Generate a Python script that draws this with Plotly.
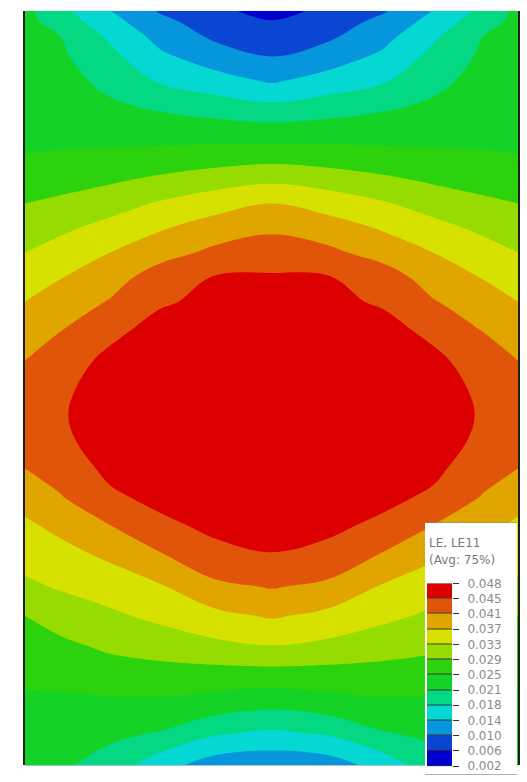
import plotly.graph_objects as go

# ---------------- data ----------------
# node positions across the width (x) and down the height (y, from the top)
X_POS = [0, 35, 85, 135, 190, 247, 303, 358, 408, 458, 493]
Y_POS = [0, 11, 26, 46, 71, 96, 121, 146, 171, 196, 221, 246, 271, 296, 326,
         356, 386, 411, 436, 466, 496, 526, 556, 586, 616, 646, 676, 706, 736, 768]

# LE11 strain (rows top -> bottom)
LE11 = [
    [0.02213, 0.01848, 0.01358, 0.00928, 0.00660, 0.00468, 0.00660, 0.00928, 0.01358, 0.01848, 0.02213],
    [0.02224, 0.01963, 0.01484, 0.01074, 0.00764, 0.00603, 0.00764, 0.01074, 0.01484, 0.01963, 0.02224],
    [0.02232, 0.02117, 0.01672, 0.01224, 0.00902, 0.00752, 0.00902, 0.01224, 0.01672, 0.02117, 0.02232],
    [0.02251, 0.02182, 0.01833, 0.01423, 0.01143, 0.00948, 0.01143, 0.01423, 0.01833, 0.02182, 0.02251],
    [0.02289, 0.02262, 0.02002, 0.01691, 0.01503, 0.01304, 0.01503, 0.01691, 0.02002, 0.02262, 0.02289],
    [0.02366, 0.02343, 0.02174, 0.02044, 0.01906, 0.01791, 0.01906, 0.02044, 0.02174, 0.02343, 0.02366],
    [0.02435, 0.02423, 0.02354, 0.02320, 0.02289, 0.02251, 0.02289, 0.02320, 0.02354, 0.02423, 0.02435],
    [0.02500, 0.02519, 0.02554, 0.02596, 0.02649, 0.02692, 0.02649, 0.02596, 0.02554, 0.02519, 0.02500],
    [0.02692, 0.02730, 0.02818, 0.02941, 0.03075, 0.03171, 0.03075, 0.02941, 0.02818, 0.02730, 0.02692],
    [0.02883, 0.02960, 0.03109, 0.03305, 0.03489, 0.03650, 0.03489, 0.03305, 0.03109, 0.02960, 0.02883],
    [0.03075, 0.03190, 0.03389, 0.03612, 0.03830, 0.03968, 0.03830, 0.03612, 0.03389, 0.03190, 0.03075],
    [0.03267, 0.03420, 0.03650, 0.03880, 0.04118, 0.04225, 0.04118, 0.03880, 0.03650, 0.03420, 0.03267],
    [0.03458, 0.03631, 0.03857, 0.04225, 0.04436, 0.04455, 0.04436, 0.04225, 0.03857, 0.03631, 0.03458],
    [0.03650, 0.03811, 0.04060, 0.04378, 0.04493, 0.04532, 0.04493, 0.04378, 0.04060, 0.03811, 0.03650],
    [0.03842, 0.04026, 0.04340, 0.04532, 0.04589, 0.04608, 0.04589, 0.04532, 0.04340, 0.04026, 0.03842],
    [0.04033, 0.04263, 0.04493, 0.04628, 0.04666, 0.04685, 0.04666, 0.04628, 0.04493, 0.04263, 0.04033],
    [0.04168, 0.04359, 0.04551, 0.04685, 0.04723, 0.04743, 0.04723, 0.04685, 0.04551, 0.04359, 0.04168],
    [0.04225, 0.04386, 0.04570, 0.04704, 0.04754, 0.04762, 0.04754, 0.04704, 0.04570, 0.04386, 0.04225],
    [0.04168, 0.04359, 0.04551, 0.04685, 0.04723, 0.04743, 0.04723, 0.04685, 0.04551, 0.04359, 0.04168],
    [0.04033, 0.04225, 0.04493, 0.04608, 0.04647, 0.04685, 0.04647, 0.04608, 0.04493, 0.04225, 0.04033],
    [0.03784, 0.03995, 0.04359, 0.04493, 0.04551, 0.04608, 0.04551, 0.04493, 0.04359, 0.03995, 0.03784],
    [0.03573, 0.03727, 0.04003, 0.04340, 0.04474, 0.04513, 0.04474, 0.04340, 0.04003, 0.03727, 0.03573],
    [0.03401, 0.03516, 0.03700, 0.03972, 0.04321, 0.04398, 0.04321, 0.03972, 0.03700, 0.03516, 0.03401],
    [0.03190, 0.03305, 0.03443, 0.03615, 0.03941, 0.04064, 0.03941, 0.03615, 0.03443, 0.03305, 0.03190],
    [0.02883, 0.03048, 0.03198, 0.03355, 0.03554, 0.03688, 0.03554, 0.03355, 0.03198, 0.03048, 0.02883],
    [0.02692, 0.02803, 0.02960, 0.03052, 0.03178, 0.03267, 0.03178, 0.03052, 0.02960, 0.02803, 0.02692],
    [0.02557, 0.02596, 0.02692, 0.02734, 0.02730, 0.02730, 0.02730, 0.02734, 0.02692, 0.02596, 0.02557],
    [0.02442, 0.02431, 0.02423, 0.02416, 0.02328, 0.02224, 0.02328, 0.02416, 0.02423, 0.02431, 0.02442],
    [0.02347, 0.02297, 0.02193, 0.02086, 0.01772, 0.01657, 0.01772, 0.02086, 0.02193, 0.02297, 0.02347],
    [0.02270, 0.02174, 0.01963, 0.01503, 0.01158, 0.01082, 0.01158, 0.01503, 0.01963, 0.02174, 0.02270],
]

# legend (bottom -> top)
LEVEL_LABELS = ["0.002", "0.006", "0.010", "0.014", "0.018", "0.021", "0.025",
                "0.029", "0.033", "0.037", "0.041", "0.045", "0.048"]
BAND_COLORS = ["#0000CD", "#0A46D2", "#0596DC", "#05D7D2", "#05D882", "#14D226",
               "#2CD20C", "#96DC00", "#D7E100", "#E1A500", "#E1550A", "#DC0000"]
LEGEND_TITLE = ["LE, LE11", "(Avg: 75%)"]

V_MIN, V_MAX = 0.002, 0.048

# ---------------- figure ----------------
n = len(BAND_COLORS)
step = (V_MAX - V_MIN) / n
cscale = []
for j, c in enumerate(BAND_COLORS):
    lo = max(0.0, (j - 0.5) / (n - 1))
    hi = min(1.0, (j + 0.5) / (n - 1))
    cscale.append([lo, c])
    cscale.append([hi, c])

W, H = 527, 782
fig = go.Figure()

fig.add_trace(go.Contour(
    x=X_POS, y=Y_POS, z=LE11,
    colorscale=cscale,
    contours=dict(start=V_MIN + step, end=V_MAX - step + step / 100, size=step,
                  coloring="fill", showlines=False),
    line=dict(width=0, smoothing=1.1),
    showscale=False, hoverinfo="skip",
    xaxis="x", yaxis="y",
))

# white legend box
fig.add_trace(go.Heatmap(
    z=[[0]], x=[0], y=[0],
    colorscale=[[0, "white"], [1, "white"]], showscale=False, hoverinfo="skip",
    xaxis="x2", yaxis="y2",
))

# legend swatches
fig.add_trace(go.Heatmap(
    z=[[j] for j in range(n)], x=[0], y=list(range(n)),
    colorscale=cscale, zmin=0, zmax=n - 1, showscale=False, hoverinfo="skip",
    ygap=1,
    xaxis="x3", yaxis="y3",
))

def px_x(a, b):
    return [a / W, b / W]

def px_y(top, bottom):
    return [1 - bottom / H, 1 - top / H]

fig.update_layout(
    width=W, height=H, autosize=False,
    margin=dict(l=0, r=0, t=0, b=0, pad=0),
    paper_bgcolor="white", plot_bgcolor="#3a3a3a",
    showlegend=False,
    xaxis=dict(domain=px_x(25, 518), range=[X_POS[0], X_POS[-1]],
               showgrid=False, zeroline=False, showticklabels=False, showline=False),
    yaxis=dict(domain=px_y(4, 772), range=[Y_POS[-1], Y_POS[0]],
               showgrid=False, zeroline=False, showticklabels=False,
               showline=True, mirror=True, linecolor="#1e1e1e", linewidth=2),
    xaxis2=dict(domain=px_x(425, 517), range=[-0.5, 0.5], visible=False, anchor="y2"),
    yaxis2=dict(domain=px_y(525, 782), range=[-0.5, 0.5], visible=False, anchor="x2"),
    xaxis3=dict(domain=px_x(427, 452), range=[-0.5, 0.5], visible=False, anchor="y3"),
    yaxis3=dict(domain=px_y(587, 773), range=[-0.5, n - 0.5], anchor="x3",
                side="right", showgrid=False, zeroline=False, showline=False,
                tickmode="array", tickvals=[i - 0.5 for i in range(n + 1)],
                ticktext=LEVEL_LABELS, ticks="outside", ticklen=6, tickwidth=1,
                tickcolor="#333333", ticklabelstandoff=6,
                tickfont=dict(family="DejaVu Sans", size=12, color="#8c8c8c")),
    font=dict(family="DejaVu Sans"),
)

for i, txt in enumerate(LEGEND_TITLE):
    fig.add_annotation(
        x=427 / W, y=1 - (546 + 17 * i) / H, xref="paper", yref="paper",
        text=txt, showarrow=False, xanchor="left", yanchor="middle",
        font=dict(family="DejaVu Sans", size=12, color="#7a7a7a"),
    )

fig.write_html(
    "out.html",
    config={"displayModeBar": False},
    post_script="document.body.style.margin='0';document.body.style.overflow='hidden';",
)
